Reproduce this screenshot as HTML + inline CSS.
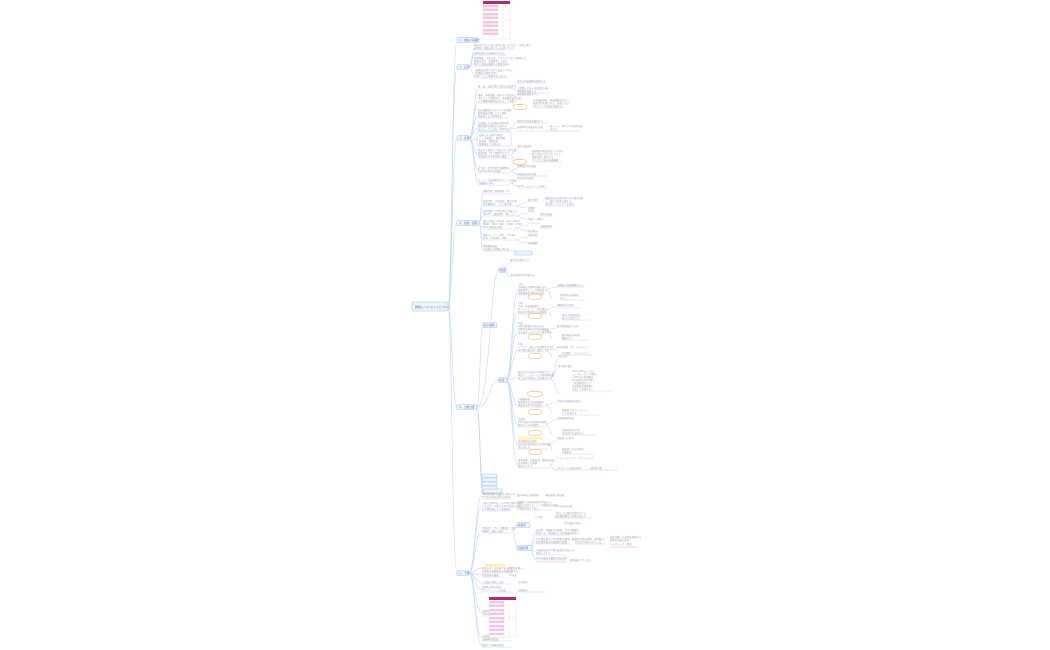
<!DOCTYPE html>
<html><head><meta charset="utf-8"><style>
html,body{margin:0;padding:0;background:#fff}
svg{display:block}
.t{font-family:"Liberation Sans","Noto Sans CJK JP",sans-serif;font-size:2.4px;fill:#a4a4a4}
.n{font-family:"Liberation Sans","Noto Sans CJK JP",sans-serif;font-size:2.6px;fill:#6a7f9e}
.l{fill:none;stroke:#c3d6f2;stroke-width:0.6}
.u{stroke:#c3d6f2;stroke-width:0.5}
.o{fill:#fff;stroke:#f2b27a;stroke-width:0.6}
.b{fill:#eef4fc;stroke:#a9c4ea;stroke-width:0.6}
</style></head><body>
<svg width="1050" height="650" viewBox="0 0 1050 650" xmlns="http://www.w3.org/2000/svg">
<rect width="1050" height="650" fill="#fff"/>
<g class="l">
<path d="M448 306 C452 306 452 40 457 40"/>
<path d="M448 306 C452 306 452 67 457 67"/>
<path d="M448 306 C452 306 452 138 457 138"/>
<path d="M448 306 C452 306 452 223 457 223"/>
<path d="M448 306 C452 306 452 407 457 407"/>
<path d="M448 306 C452 306 452 573 457 573"/>
</g>
<rect x="412" y="302" width="36" height="9" rx="1.5" class="b"/>
<text x="415" y="308" class="n" style="font-size:3px">肺癌レベルセットについて</text>
<g>
<rect x="457" y="37.5" width="21" height="5" rx="1.5" class="b"/><text x="459" y="41" class="n">１．肺癌の組織型</text>
<rect x="457" y="64.5" width="12" height="5" rx="1.5" class="b"/><text x="459" y="68" class="n">２．疫学</text>
<rect x="457" y="135.5" width="12" height="5" rx="1.5" class="b"/><text x="459" y="139" class="n">３．症状</text>
<rect x="457" y="220.5" width="22" height="5" rx="1.5" class="b"/><text x="459" y="224" class="n">４．検査・診断</text>
<rect x="457" y="404.5" width="20" height="5" rx="1.5" class="b"/><text x="459" y="408" class="n">５．治療方針</text>
<rect x="457" y="570.5" width="12" height="5" rx="1.5" class="b"/><text x="459" y="574" class="n">６．予後</text>
</g>
<g>
<rect x="483" y="1" width="27" height="38" fill="#fff" stroke="#ccc" stroke-width="0.3"/>
<rect x="483" y="1" width="27" height="3" fill="#a8306a"/>
<g fill="#f0c8df">
<rect x="483" y="5" width="15" height="2"/><rect x="483" y="9" width="15" height="2"/><rect x="483" y="13" width="15" height="2"/><rect x="483" y="17" width="15" height="2"/><rect x="483" y="21" width="15" height="2"/><rect x="483" y="25" width="15" height="2"/><rect x="483" y="29" width="15" height="2"/><rect x="483" y="33" width="15" height="2"/>
</g>
<g fill="#f8e4ef"><rect x="483" y="7" width="15" height="2"/><rect x="483" y="15" width="15" height="2"/><rect x="483" y="23" width="15" height="2"/><rect x="483" y="31" width="15" height="2"/></g>
<line x1="498" y1="4" x2="498" y2="39" stroke="#ccc" stroke-width="0.3"/>
<line x1="503" y1="4" x2="503" y2="39" stroke="#ccc" stroke-width="0.3"/>
<line x1="503" y1="20" x2="510" y2="20" stroke="#ccc" stroke-width="0.3"/>
<path class="l" d="M478 40 L483 38"/>
</g>
<g class="l">
<path d="M469 67 C472 67 472 48 475 48"/><path d="M469 67 C472 67 472 54 475 54"/><path d="M469 67 C472 67 472 63 475 63"/><path d="M469 67 C472 67 472 76 475 76"/>
</g>
<text class="t"><tspan x="474" y="46">肺癌は日本人の死亡原因の第一位であり、男性に多い</tspan><tspan x="474" y="49">年間死亡者数は約七万人を超えている</tspan>
<tspan x="474" y="54">喫煙は最大の危険因子である</tspan>
<tspan x="474" y="59">受動喫煙、大気汚染、アスベストなども関係する</tspan><tspan x="474" y="62">腺癌は女性・非喫煙者にも多い</tspan><tspan x="474" y="65">扁平上皮癌は喫煙との関連が強い</tspan>
<tspan x="474" y="71">小細胞癌は進行が早く転移しやすい</tspan><tspan x="474" y="74">大細胞癌は頻度が低い</tspan><tspan x="474" y="77">年齢とともに罹患率が上昇する</tspan></text>
<line class="u" x1="474" y1="50" x2="506" y2="50"/><line class="u" x1="474" y1="55" x2="506" y2="55"/><line class="u" x1="474" y1="66" x2="506" y2="66"/><line class="u" x1="474" y1="78" x2="506" y2="78"/>
<g class="l">
<path d="M469 138 C474 138 474 88 478 88"/><path d="M469 138 C474 138 474 101 478 101"/><path d="M469 138 C474 138 474 115 478 115"/><path d="M469 138 C474 138 474 128 478 128"/><path d="M469 138 C474 138 474 140 478 140"/><path d="M469 138 C474 138 474 155 478 155"/><path d="M469 138 C474 138 474 171 478 171"/><path d="M469 138 C474 138 474 183 478 183"/>
<path d="M510 88 C514 88 514 83 517 83"/><path d="M510 88 C514 88 514 90 517 90"/>
<path d="M510 101 C514 101 514 96 517 96"/><path d="M510 101 C514 101 514 107 513 107"/>
<path d="M510 128 C514 128 514 123 517 123"/><path d="M510 128 C514 128 514 129 517 129"/>
<path d="M510 155 C514 155 514 148 517 148"/><path d="M510 155 C514 155 514 162 513 162"/>
<path d="M510 171 C514 171 514 168 517 168"/><path d="M510 171 C514 171 514 174 517 174"/>
<path d="M510 183 C514 183 514 180 517 180"/><path d="M510 183 C514 183 514 186 517 186"/>
</g>
<text class="t"><tspan x="478" y="87">咳・痰・血痰が続く場合は注意する</tspan>
<tspan x="478" y="96">胸痛、呼吸困難、嗄声などを認める</tspan><tspan x="478" y="99">進行すると体重減少、全身倦怠感が出現</tspan><tspan x="478" y="102">上大静脈症候群を呈することもある</tspan>
<tspan x="478" y="111">肺尖部腫瘍ではホルネル症候群</tspan><tspan x="478" y="114">腕神経叢浸潤による上肢痛</tspan><tspan x="478" y="117">脳転移による神経症状</tspan>
<tspan x="478" y="124">骨転移による疼痛や病的骨折</tspan><tspan x="478" y="127">腫瘍随伴症候群に注意する</tspan><tspan x="478" y="130">高カルシウム血症、SIADHなど</tspan>
<tspan x="478" y="151">無症状で検診にて発見される例も多い</tspan><tspan x="478" y="154">胸部X線、CTで偶然見つかる</tspan><tspan x="478" y="157">早期発見が予後改善に重要</tspan>
<tspan x="478" y="169">ばち指、肥大性肺性骨関節症</tspan><tspan x="478" y="172">Lambert-Eaton症候群</tspan>
<tspan x="478" y="181">クッシング症候群を伴うことがある</tspan><tspan x="478" y="184">小細胞癌で多い</tspan></text>
<rect x="477" y="132" width="34" height="14" fill="none" stroke="#b9cff0" stroke-width="0.5"/>
<text class="t"><tspan x="479" y="136">転移による症状の確認</tspan><tspan x="479" y="139">リンパ節腫大、胸水貯留</tspan><tspan x="479" y="142">肝転移、副腎転移</tspan><tspan x="479" y="145">画像検査で評価する</tspan></text>
<g class="u"><line x1="478" y1="88" x2="510" y2="88"/><line x1="478" y1="103" x2="510" y2="103"/><line x1="478" y1="118" x2="510" y2="118"/><line x1="478" y1="131" x2="510" y2="131"/><line x1="478" y1="158" x2="510" y2="158"/><line x1="478" y1="173" x2="510" y2="173"/><line x1="478" y1="185" x2="510" y2="185"/></g>
<g>
<ellipse class="o" cx="520" cy="107" rx="7" ry="2.8"/><ellipse class="o" cx="520" cy="162" rx="7" ry="2.8"/>
</g>
<text class="t"><tspan x="517" y="82">症状の持続期間を確認する</tspan><tspan x="517" y="89">２週間以上続く咳は精査対象</tspan><tspan x="517" y="92">喫煙歴を聴取する</tspan>
<tspan x="517" y="95">胸部画像検査を行う</tspan>
<tspan x="533" y="101">気管支鏡検査、喀痰細胞診を行い</tspan><tspan x="533" y="104">病理診断を確定する。必要に応じて</tspan><tspan x="533" y="107">CTガイド下生検も考慮する</tspan>
<tspan x="517" y="122">神経学的所見を確認する</tspan><tspan x="517" y="128">頭部MRIで脳転移の評価</tspan><tspan x="550" y="127">骨シンチ、PET-CTで全身評価</tspan><tspan x="550" y="130">を行う</tspan>
<tspan x="517" y="147">検診の重要性</tspan>
<tspan x="532" y="152">低線量CT検診は高リスク群で</tspan><tspan x="532" y="155">死亡率低下が示されている</tspan><tspan x="532" y="158">過剰診断に留意する</tspan><tspan x="532" y="161">すりガラス影の経過観察</tspan>
<tspan x="517" y="167">電解質異常の確認</tspan><tspan x="517" y="175">神経筋症状の評価</tspan>
<tspan x="517" y="179">内分泌学的検査</tspan><tspan x="517" y="187">ACTH・コルチゾール測定</tspan></text>
<g class="u"><line x1="517" y1="83" x2="545" y2="83"/><line x1="517" y1="93" x2="550" y2="93"/><line x1="533" y1="108" x2="565" y2="108"/><line x1="517" y1="123" x2="548" y2="123"/><line x1="517" y1="131" x2="580" y2="131"/><line x1="532" y1="162" x2="562" y2="162"/><line x1="517" y1="176" x2="548" y2="176"/><line x1="517" y1="188" x2="548" y2="188"/></g>
<g class="l">
<path d="M479 223 C481 223 481 193 483 193"/><path d="M479 223 C481 223 481 206 483 206"/><path d="M479 223 C481 223 481 216 483 216"/><path d="M479 223 C481 223 481 228 483 228"/><path d="M479 223 C481 223 481 240 483 240"/><path d="M479 223 C481 223 481 250 483 250"/>
<path d="M515 206 C520 206 520 202 528 202"/><path d="M515 206 C520 206 520 208 528 208"/>
<path d="M515 216 C520 216 520 213 528 213"/><path d="M515 216 C520 216 520 219 528 219"/>
<path d="M515 228 C520 228 520 225 528 225"/><path d="M515 228 C520 228 520 231 528 231"/>
<path d="M515 240 C520 240 520 237 528 237"/><path d="M515 240 C520 240 520 243 528 243"/>
</g>
<text class="t"><tspan x="483" y="192">画像診断：胸部X線・CT</tspan>
<tspan x="483" y="202">病理診断：気管支鏡、経皮生検</tspan><tspan x="483" y="205">胸水細胞診、リンパ節生検</tspan>
<tspan x="483" y="212">病期診断：TNM分類で評価する</tspan><tspan x="483" y="215">PET-CT、頭部MRI、骨シンチ</tspan>
<tspan x="483" y="222">遺伝子検査：EGFR、ALK、ROS1</tspan><tspan x="483" y="225">BRAF、MET、RET、KRAS、NTRK</tspan><tspan x="483" y="228">PD-L1発現の評価</tspan>
<tspan x="483" y="236">腫瘍マーカー：CEA、CYFRA</tspan><tspan x="483" y="239">SCC、ProGRP、NSE</tspan>
<tspan x="483" y="247">呼吸機能検査</tspan><tspan x="483" y="250">手術適応の判断に用いる</tspan>
<tspan x="528" y="201">確定診断</tspan><tspan x="528" y="209">組織型</tspan><tspan x="528" y="212">T因子</tspan><tspan x="528" y="220">N因子・M因子</tspan><tspan x="528" y="224">ドライバー</tspan><tspan x="528" y="232">免疫療法</tspan><tspan x="528" y="236">補助診断</tspan><tspan x="528" y="244">経過観察</tspan>
<tspan x="545" y="199">組織採取は可能な限り十分量を確保</tspan><tspan x="545" y="202">し、遺伝子検査に備える</tspan><tspan x="545" y="205">次世代シーケンサーを活用</tspan>
<tspan x="540" y="215">病期分類表</tspan><tspan x="540" y="227">治療薬選択</tspan></text>
<g class="u"><line x1="483" y1="194" x2="512" y2="194"/><line x1="483" y1="206" x2="515" y2="206"/><line x1="483" y1="216" x2="515" y2="216"/><line x1="483" y1="229" x2="515" y2="229"/><line x1="483" y1="240" x2="515" y2="240"/><line x1="483" y1="251" x2="515" y2="251"/><line x1="545" y1="206" x2="575" y2="206"/><line x1="540" y1="216" x2="553" y2="216"/><line x1="540" y1="228" x2="553" y2="228"/></g>
<g class="l">
<path d="M477 407 C480 407 480 325 483 325"/><path d="M477 407 C490 407 490 270 499 270"/><path d="M477 407 C490 407 490 380 498 380"/>
<path d="M477 407 C480 407 480 476 482 476"/><path d="M477 407 C480 407 480 480 482 480"/><path d="M477 407 C480 407 480 484 482 484"/><path d="M477 407 C480 407 480 488 482 488"/>
<path d="M505 270 C507 270 507 262 510 262"/><path d="M505 270 C507 270 507 277 510 277"/>
<path d="M506 380 C512 380 512 290 518 290"/><path d="M506 380 C512 380 512 310 518 310"/><path d="M506 380 C512 380 512 330 518 330"/><path d="M506 380 C512 380 512 350 518 350"/><path d="M506 380 C512 380 512 378 518 378"/><path d="M506 380 C512 380 512 405 518 405"/><path d="M506 380 C512 380 512 425 518 425"/><path d="M506 380 C512 380 512 445 518 445"/><path d="M506 380 C512 380 512 465 518 465"/>
<path d="M545 290 C550 290 550 287 557 287"/><path d="M545 290 C550 290 550 297 552 297"/>
<path d="M545 310 C550 310 550 307 557 307"/><path d="M545 310 C550 310 550 316 552 316"/>
<path d="M545 330 C550 330 550 328 557 328"/><path d="M545 330 C550 330 550 337 552 337"/>
<path d="M545 350 C550 350 550 349 557 349"/><path d="M545 350 C550 350 550 356 552 356"/>
<path d="M550 378 C555 378 555 358 558 358"/><path d="M550 378 C555 378 555 368 558 368"/><path d="M550 378 C555 378 555 394 560 394"/>
<path d="M545 405 C550 405 550 403 557 403"/><path d="M545 405 C550 405 550 412 552 412"/>
<path d="M545 425 C550 425 550 420 557 420"/><path d="M545 425 C550 425 550 433 552 433"/>
<path d="M548 445 C552 445 552 440 557 440"/><path d="M548 445 C552 445 552 452 552 452"/>
<path d="M550 465 C552 465 552 460 557 460"/><path d="M550 465 C552 465 552 470 557 470"/>
</g>
<rect x="483" y="322.5" width="14" height="5" rx="1.5" class="b"/><text x="484" y="326" class="n">非小細胞</text>
<rect x="499" y="267.5" width="7" height="5" rx="1.5" class="b"/><text x="500" y="271" class="n">総論</text>
<rect x="498" y="377.5" width="9" height="5" rx="1.5" class="b"/><text x="499" y="381" class="n">各論</text>
<g><rect x="482" y="474" width="15" height="3.5" rx="1" class="b"/><rect x="482" y="478" width="15" height="3.5" rx="1" class="b"/><rect x="482" y="482" width="15" height="3.5" rx="1" class="b"/><rect x="482" y="486" width="15" height="3.5" rx="1" class="b"/><rect x="482" y="490" width="15" height="3.5" rx="1" class="b"/></g>
<rect x="515" y="251" width="17" height="4" rx="1" class="b"/>
<text class="t"><tspan x="510" y="261">集学的治療を行う</tspan><tspan x="510" y="276">全身状態PSを評価する</tspan>
<tspan x="518" y="285">Ⅰ期</tspan><tspan x="518" y="288">手術療法が標準治療である</tspan><tspan x="518" y="291">肺葉切除とリンパ節郭清</tspan><tspan x="518" y="294">術後補助化学療法を検討</tspan>
<tspan x="518" y="304">Ⅱ期</tspan><tspan x="518" y="307">手術＋術後補助療法</tspan><tspan x="518" y="310">オシメルチニブ、免疫療法</tspan><tspan x="518" y="313">術前化学免疫療法も選択肢</tspan>
<tspan x="518" y="324">Ⅲ期</tspan><tspan x="518" y="327">切除可能例は手術を含む</tspan><tspan x="518" y="330">切除不能例は化学放射線療法</tspan><tspan x="518" y="333">その後デュルバルマブ維持療法</tspan>
<tspan x="518" y="345">Ⅳ期</tspan><tspan x="518" y="348">ドライバー遺伝子変異陽性の場合</tspan><tspan x="518" y="351">分子標的薬を第一選択とする</tspan>
<tspan x="518" y="373">陰性の場合はPD-L1発現に応じて</tspan><tspan x="518" y="376">免疫チェックポイント阻害薬単剤</tspan><tspan x="518" y="379">または化学療法との併用を行う</tspan>
<tspan x="518" y="400">小細胞肺癌</tspan><tspan x="518" y="403">限局型は化学放射線療法</tspan><tspan x="518" y="406">進展型は化学免疫療法</tspan>
<tspan x="518" y="420">高齢者</tspan><tspan x="518" y="423">PS不良例では単剤化学療法</tspan><tspan x="518" y="426">緩和ケアの早期導入</tspan>
<tspan x="518" y="442">放射線療法の適応</tspan><tspan x="518" y="445">定位放射線治療は手術不能例に</tspan><tspan x="518" y="448">用いられる</tspan>
<tspan x="518" y="461">緩和医療：疼痛管理、精神的支援</tspan><tspan x="518" y="464">在宅医療との連携</tspan><tspan x="518" y="467">家族へのケア</tspan></text>
<rect x="518" y="437" width="24" height="2.5" fill="#fff3b0"/>
<g class="u"><line x1="518" y1="295" x2="545" y2="295"/><line x1="518" y1="314" x2="545" y2="314"/><line x1="518" y1="334" x2="545" y2="334"/><line x1="518" y1="352" x2="545" y2="352"/><line x1="518" y1="380" x2="550" y2="380"/><line x1="518" y1="407" x2="545" y2="407"/><line x1="518" y1="427" x2="545" y2="427"/><line x1="518" y1="449" x2="548" y2="449"/><line x1="518" y1="468" x2="550" y2="468"/></g>
<g>
<ellipse class="o" cx="535" cy="297" rx="7" ry="2.8"/><ellipse class="o" cx="535" cy="316" rx="7" ry="2.8"/><ellipse class="o" cx="535" cy="337" rx="7" ry="2.8"/><ellipse class="o" cx="535" cy="356" rx="7" ry="2.8"/>
<ellipse class="o" cx="535" cy="394" rx="8" ry="2.8"/><ellipse class="o" cx="535" cy="412" rx="7" ry="2.8"/><ellipse class="o" cx="535" cy="433" rx="7" ry="2.8"/><ellipse class="o" cx="535" cy="452" rx="7" ry="2.8"/>
</g>
<text class="t"><tspan x="557" y="286">治療後の経過観察を行う</tspan><tspan x="560" y="296">再発時は全身療法</tspan><tspan x="560" y="299">を行う</tspan>
<tspan x="557" y="306">補助療法の選択</tspan><tspan x="562" y="316">遺伝子検査結果に</tspan><tspan x="562" y="319">基づき決定する</tspan>
<tspan x="557" y="327">放射線肺臓炎に注意</tspan><tspan x="562" y="336">維持療法は1年間</tspan><tspan x="562" y="339">継続する</tspan>
<tspan x="557" y="348">EGFR変異：オシメルチニブ</tspan><tspan x="562" y="354">ALK融合：アレクチニブ</tspan>
<tspan x="558" y="357">耐性化時</tspan><tspan x="558" y="367">再生検を検討</tspan>
<tspan x="572" y="372">PD-L1 50%以上では</tspan><tspan x="572" y="375">ペムブロリズマブ単剤</tspan><tspan x="572" y="378">1-49%では併用療法</tspan><tspan x="572" y="381">1%未満では化学療法</tspan><tspan x="572" y="384">＋免疫療法を行う</tspan><tspan x="572" y="387">免疫関連有害事象に</tspan><tspan x="572" y="390">注意して管理する</tspan>
<tspan x="557" y="402">予防的全脳照射を検討</tspan><tspan x="562" y="411">再発例ではアムルビシン</tspan><tspan x="562" y="414">などを用いる</tspan>
<tspan x="557" y="419">高齢者機能評価</tspan><tspan x="562" y="431">治療目標を共有し</tspan><tspan x="562" y="434">意思決定を支援する</tspan>
<tspan x="557" y="439">骨転移への照射</tspan><tspan x="562" y="450">脳転移への定位照射</tspan><tspan x="562" y="453">全脳照射</tspan>
<tspan x="557" y="459">アドバンス・ケア・プランニング</tspan><tspan x="557" y="469">オピオイドの適正使用</tspan><tspan x="590" y="469">副作用対策</tspan></text>
<g class="u"><line x1="557" y1="287" x2="585" y2="287"/><line x1="560" y1="300" x2="585" y2="300"/><line x1="557" y1="308" x2="580" y2="308"/><line x1="562" y1="320" x2="590" y2="320"/><line x1="562" y1="340" x2="588" y2="340"/><line x1="562" y1="355" x2="592" y2="355"/><line x1="572" y1="391" x2="612" y2="391"/><line x1="562" y1="415" x2="600" y2="415"/><line x1="562" y1="435" x2="595" y2="435"/><line x1="562" y1="454" x2="595" y2="454"/><line x1="557" y1="470" x2="618" y2="470"/></g>
<g class="l">
<path d="M469 573 C475 573 475 496 482 496"/><path d="M469 573 C475 573 475 506 482 506"/><path d="M469 573 C475 573 475 530 482 530"/><path d="M469 573 C475 573 475 568 482 568"/><path d="M469 573 C475 573 475 575 482 575"/><path d="M469 573 C475 573 475 582 482 582"/><path d="M469 573 C475 573 475 590 482 590"/><path d="M469 573 C475 573 475 613 482 613"/><path d="M469 573 C475 573 475 638 482 638"/><path d="M469 573 C475 573 475 645 482 645"/>
<path d="M512 530 C515 530 515 525 517 525"/><path d="M512 530 C515 530 515 548 517 548"/>
<path d="M530 548 C533 548 533 532 536 532"/><path d="M530 548 C533 548 533 541 536 541"/><path d="M530 548 C533 548 533 552 536 552"/><path d="M530 548 C533 548 533 560 536 560"/>
<path d="M513 613 C516 613 516 600 489 600"/>
</g>
<rect x="483" y="489" width="19" height="4" rx="1" class="b"/>
<rect x="517" y="522.5" width="13" height="5" rx="1.5" class="b"/><text x="518" y="526" class="n">病期別</text>
<rect x="517" y="545.5" width="15" height="5" rx="1.5" class="b"/><text x="518" y="549" class="n">治療効果</text>
<rect x="485" y="564" width="20" height="2.5" fill="#fff0a8"/>
<text class="t"><tspan x="482" y="495">予後は病期と組織型に依存する</tspan><tspan x="482" y="498">５年生存率は全体で約40%</tspan>
<tspan x="482" y="504">Ⅰ期では80%以上の５年生存率が期待</tspan><tspan x="482" y="507">されるが、Ⅳ期では10%未満である</tspan><tspan x="482" y="510">分子標的薬により改善傾向</tspan>
<tspan x="482" y="529">予後因子：PS、体重減少、性別</tspan><tspan x="482" y="532">組織型、遺伝子変異</tspan>
<tspan x="482" y="569">再発の多くは術後２年以内に起こる</tspan><tspan x="482" y="572">定期的な画像検査で経過観察する</tspan>
<tspan x="482" y="576">禁煙指導を継続</tspan><tspan x="482" y="583">二次癌の発生に注意</tspan><tspan x="482" y="588">長期生存例の増加</tspan><tspan x="482" y="591">サバイバーシップ支援</tspan>
<tspan x="482" y="612">病期別生存率の一覧</tspan><tspan x="482" y="615">TNM分類第８版に基づく</tspan>
<tspan x="482" y="637">治療費と社会的支援</tspan><tspan x="482" y="640">高額療養費制度</tspan><tspan x="482" y="646">緩和ケア病棟の利用</tspan>
<tspan x="517" y="496">臨床病期と病理病期</tspan><tspan x="545" y="496">術後病理で再評価</tspan>
<tspan x="517" y="503">手術例では病理病期が予後をより</tspan><tspan x="517" y="506">正確に反映する。リンパ節転移の有無</tspan><tspan x="517" y="509">が重要な因子である</tspan><tspan x="553" y="507">５年生存率の比較</tspan>
<tspan x="534" y="518">Ⅰ-Ⅱ期</tspan><tspan x="555" y="514">手術による根治が期待される</tspan><tspan x="555" y="517">術後補助療法で再発を減らす</tspan><tspan x="564" y="524">生存曲線の改善</tspan>
<tspan x="536" y="531">奏効率、無増悪生存期間、全生存期間で</tspan><tspan x="536" y="534">評価する。免疫療法では長期奏効例あり</tspan>
<tspan x="536" y="540">分子標的薬では生存期間が著明に延長</tspan><tspan x="536" y="543">耐性獲得後の治療戦略が課題</tspan><tspan x="575" y="540">次世代薬の開発、併用療法</tspan><tspan x="575" y="543">の検討が進められている</tspan><tspan x="610" y="538">臨床試験への参加を考慮する</tspan><tspan x="610" y="541">個別化医療の推進</tspan><tspan x="610" y="545">バイオマーカー探索</tspan>
<tspan x="536" y="551">小細胞癌は化学療法感受性が高いが</tspan><tspan x="536" y="554">再発しやすい</tspan>
<tspan x="536" y="559">QOLの維持も重要な評価項目</tspan><tspan x="570" y="561">患者報告アウトカム</tspan>
<tspan x="508" y="569">定期フォロー</tspan><tspan x="509" y="576">CT検査</tspan><tspan x="518" y="583">生活指導</tspan><tspan x="518" y="591">禁煙外来</tspan></text>
<g class="u"><line x1="482" y1="499" x2="512" y2="499"/><line x1="482" y1="511" x2="512" y2="511"/><line x1="482" y1="533" x2="512" y2="533"/><line x1="482" y1="573" x2="512" y2="573"/><line x1="482" y1="577" x2="505" y2="577"/><line x1="482" y1="584" x2="512" y2="584"/><line x1="482" y1="592" x2="512" y2="592"/><line x1="482" y1="616" x2="513" y2="616"/><line x1="482" y1="641" x2="512" y2="641"/><line x1="482" y1="647" x2="512" y2="647"/>
<line x1="517" y1="510" x2="553" y2="510"/><line x1="555" y1="518" x2="592" y2="518"/><line x1="536" y1="535" x2="570" y2="535"/><line x1="536" y1="544" x2="570" y2="544"/><line x1="575" y1="544" x2="605" y2="544"/><line x1="536" y1="555" x2="566" y2="555"/><line x1="536" y1="560" x2="566" y2="560"/><line x1="517" y1="592" x2="545" y2="592"/></g>
<line x1="610" y1="547" x2="638" y2="547" stroke="#f0a0a0" stroke-width="0.5"/>
<line x1="536" y1="562" x2="566" y2="562" stroke="#f0a0a0" stroke-width="0.5"/>
<g>
<rect x="489" y="597" width="27" height="40" fill="#fff" stroke="#ccc" stroke-width="0.3"/>
<rect x="489" y="597" width="27" height="3" fill="#a8306a"/>
<g fill="#f0c8df">
<rect x="489" y="601" width="15" height="2"/><rect x="489" y="605" width="15" height="2"/><rect x="489" y="609" width="15" height="2"/><rect x="489" y="613" width="15" height="2"/><rect x="489" y="617" width="15" height="2"/><rect x="489" y="621" width="15" height="2"/><rect x="489" y="625" width="15" height="2"/><rect x="489" y="629" width="15" height="2"/><rect x="489" y="633" width="15" height="2"/>
</g>
<g fill="#f8e4ef"><rect x="489" y="603" width="15" height="2"/><rect x="489" y="611" width="15" height="2"/><rect x="489" y="619" width="15" height="2"/><rect x="489" y="627" width="15" height="2"/></g>
<line x1="504" y1="600" x2="504" y2="637" stroke="#ccc" stroke-width="0.3"/>
<line x1="509" y1="600" x2="509" y2="637" stroke="#ccc" stroke-width="0.3"/>
<line x1="509" y1="617" x2="516" y2="617" stroke="#ccc" stroke-width="0.3"/>
</g>
</svg>
</body></html>
